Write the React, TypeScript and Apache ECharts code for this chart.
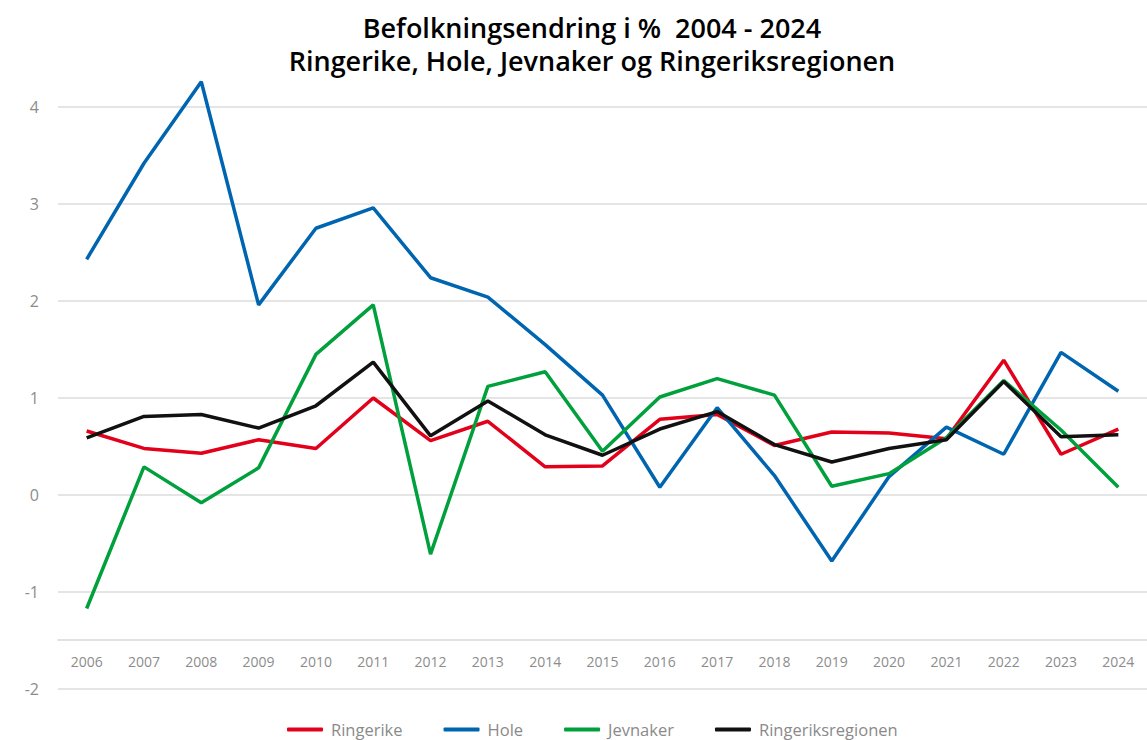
import React, { useEffect, useRef } from "react";
import * as echarts from "echarts";

const years = ["2006","2007","2008","2009","2010","2011","2012","2013","2014","2015","2016","2017","2018","2019","2020","2021","2022","2023","2024"];

const ringerike = [0.66, 0.48, 0.43, 0.57, 0.48, 1.0, 0.56, 0.76, 0.29, 0.30, 0.78, 0.83, 0.51, 0.65, 0.64, 0.58, 1.39, 0.42, 0.68];
const hole = [2.43, 3.42, 4.26, 1.96, 2.75, 2.96, 2.24, 2.04, 1.55, 1.03, 0.08, 0.90, 0.20, -0.68, 0.19, 0.70, 0.42, 1.47, 1.07];
const jevnaker = [-1.17, 0.29, -0.08, 0.28, 1.45, 1.96, -0.61, 1.12, 1.27, 0.45, 1.01, 1.20, 1.03, 0.09, 0.22, 0.59, 1.18, 0.67, 0.08];
const regionen = [0.59, 0.81, 0.83, 0.69, 0.92, 1.37, 0.61, 0.97, 0.62, 0.41, 0.68, 0.86, 0.52, 0.34, 0.48, 0.57, 1.17, 0.60, 0.62];

const seriesNames = ["Ringerike", "Hole", "Jevnaker", "Ringeriksregionen"];
const seriesColors = ["#e2001a", "#0065b0", "#00a03c", "#111111"];
const seriesData = [ringerike, hole, jevnaker, regionen];

const titleLines = ["Befolkningsendring i %  2004 - 2024", "Ringerike, Hole, Jevnaker og Ringeriksregionen"];

export default function App() {
  const ref = useRef<HTMLDivElement>(null);
  useEffect(() => {
    if (!ref.current) return;
    const chart = echarts.init(ref.current, null, { renderer: "svg" });
    const font = "'Open Sans', sans-serif";
    chart.setOption({
      animation: false,
      backgroundColor: "#ffffff",
      graphic: titleLines.map((t, i) => ({
        type: "text",
        x: 592,
        y: 27 + i * 33,
        style: {
          text: t,
          textAlign: "center",
          textVerticalAlign: "middle",
          fontFamily: font,
          fontSize: 27,
          fontWeight: 600,
          fill: "#000000",
        },
      })),
      legend: {
        left: 282,
        top: 716,
        itemWidth: 36,
        itemHeight: 4,
        itemGap: 41,
        icon: "roundRect",
        textStyle: { fontFamily: font, fontSize: 16.5, color: "#8a8a8a", padding: [0, 0, 0, 3] },
        data: seriesNames,
      },
      grid: { left: 58, right: -8, top: 107, bottom: 51, containLabel: false },
      xAxis: {
        type: "category",
        data: years,
        boundaryGap: true,
        offset: -49,
        axisLine: { show: true, onZero: false, lineStyle: { color: "#d9d9d9", width: 1.5 } },
        axisTick: { show: false },
        axisLabel: { fontFamily: font, fontSize: 14, color: "#8c8c8c", margin: 14 },
        splitLine: { show: false },
      },
      yAxis: {
        type: "value",
        min: -2,
        max: 4,
        interval: 1,
        axisLine: { show: false },
        axisTick: { show: false },
        axisLabel: { fontFamily: font, fontSize: 16, color: "#8c8c8c", margin: 19 },
        splitLine: { lineStyle: { color: "#dcdcdc", width: 1.5 } },
      },
      series: seriesNames.map((name, i) => ({
        name,
        type: "line",
        data: seriesData[i],
        symbol: "none",
        clip: false,
        color: seriesColors[i],
        lineStyle: { width: 3.5, color: seriesColors[i] },
      })),
    });
    return () => chart.dispose();
  }, []);
  return (
    <div
      ref={ref}
      style={{ position: "fixed", left: 0, top: 0, width: 1147, height: 740, background: "#fff" }}
    />
  );
}
